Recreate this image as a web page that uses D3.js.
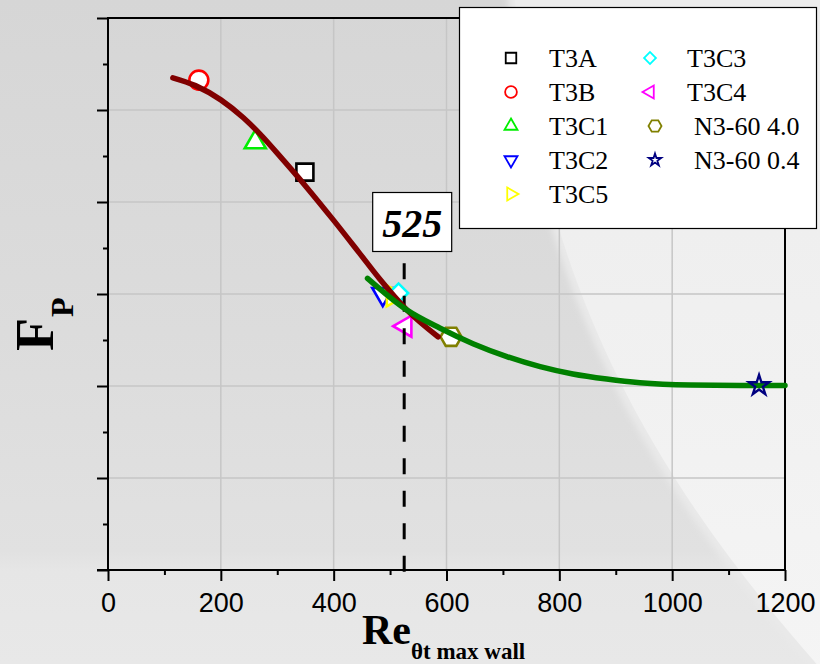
<!DOCTYPE html>
<html>
<head>
<meta charset="utf-8">
<script src="https://cdn.jsdelivr.net/npm/d3@7/dist/d3.min.js"></script>
<style>
  html, body { margin: 0; padding: 0; background: #dcdcdc; }
  svg { display: block; }
</style>
</head>
<body>
<svg id="chart" width="820" height="664"></svg>
<script>
// ---- data -------------------------------------------------------------
// Correlation curve (low-Re branch) Re_theta vs F_P
const redCurveRe = [115, 155, 200, 240, 270, 310, 350, 400, 445, 482, 530, 585];
const redCurveFp = [1.070, 1.053, 1.022, 0.983, 0.947, 0.892, 0.835, 0.760, 0.690, 0.632, 0.565, 0.507];

// Correlation curve (high-Re branch)
const greenCurveRe = [460, 530, 588, 647, 707, 766, 824, 884, 943, 1032, 1120, 1200];
const greenCurveFp = [0.634, 0.565, 0.526, 0.492, 0.464, 0.442, 0.426, 0.415, 0.407, 0.402, 0.401, 0.401];

// Test cases
const caseNames = ["T3A", "T3B", "T3C1", "T3C2", "T3C5", "T3C3", "T3C4", "N3-60 4.0", "N3-60 0.4"];
const caseRe    = [349, 161, 261, 487, 505, 515, 527, 608, 1154];
const caseFp    = [0.865, 1.065, 0.930, 0.600, 0.596, 0.602, 0.530, 0.507, 0.401];

// Legend order
const legendNames = ["T3A", "T3B", "T3C1", "T3C2", "T3C5", "T3C3", "T3C4", "N3-60 4.0", "N3-60 0.4"];

// Transition marker
const transitionRe = 525;

// Axis ticks
const xTicks = [0, 200, 400, 600, 800, 1000, 1200];
const xMinorTicks = [100, 300, 500, 700, 900, 1100];
const yTicks = [0, 0.2, 0.4, 0.6, 0.8, 1.0, 1.2];
const yMinorTicks = [0.1, 0.3, 0.5, 0.7, 0.9, 1.1];

// ---- styling per case ---------------------------------------------------
const caseStyle = {
  "T3A":       { color: "#000000", shape: "square" },
  "T3B":       { color: "#ff0000", shape: "circle" },
  "T3C1":      { color: "#00ee00", shape: "triUp" },
  "T3C2":      { color: "#0000ff", shape: "triDown" },
  "T3C5":      { color: "#ffff00", shape: "triRight" },
  "T3C3":      { color: "#00ffff", shape: "diamond" },
  "T3C4":      { color: "#ff00ff", shape: "triLeft" },
  "N3-60 4.0": { color: "#808000", shape: "hexagon" },
  "N3-60 0.4": { color: "#000080", shape: "star" }
};

const svg = d3.select("#chart");
const W = 820, H = 664;

// ---- background -------------------------------------------------------
const defs = svg.append("defs");
const bg = defs.append("linearGradient").attr("id", "bgGrad")
  .attr("x1", 0).attr("y1", 0).attr("x2", 0).attr("y2", 1);
bg.append("stop").attr("offset", "0").attr("stop-color", "#d6d6d6");
bg.append("stop").attr("offset", "0.5").attr("stop-color", "#dcdcdc");
bg.append("stop").attr("offset", "0.83").attr("stop-color", "#e1e1e1");
bg.append("stop").attr("offset", "0.86").attr("stop-color", "#e6e6e6");
bg.append("stop").attr("offset", "1").attr("stop-color", "#e8e8e8");

const lite = defs.append("linearGradient").attr("id", "liteGrad")
  .attr("x1", 0).attr("y1", 0).attr("x2", 0).attr("y2", 1);
lite.append("stop").attr("offset", "0").attr("stop-color", "#ececec");
lite.append("stop").attr("offset", "1").attr("stop-color", "#f5f5f5");

defs.append("filter").attr("id", "soft")
  .append("feGaussianBlur").attr("stdDeviation", 3);

svg.append("rect").attr("width", W).attr("height", H).attr("fill", "url(#bgGrad)");

const swoosh = "M515,0 C540,250 620,450 840,690 L840,0 Z";
svg.append("path").attr("d", swoosh).attr("fill", "none")
  .attr("stroke", "#e9e9e9").attr("stroke-width", 14).attr("filter", "url(#soft)");
svg.append("path").attr("d", swoosh).attr("fill", "url(#liteGrad)");

// ---- scales -------------------------------------------------------------
const x = d3.scaleLinear().domain([0, 1200]).range([108, 785]);
const y = d3.scaleLinear().domain([0, 1.2]).range([570, 18]);

// ---- grid -----------------------------------------------------------------
const grid = svg.append("g").attr("stroke", "#c6c6c6").attr("stroke-width", 1.5);
grid.selectAll("line.v").data(xTicks.slice(1, -1)).join("line")
  .attr("x1", d => x(d)).attr("x2", d => x(d))
  .attr("y1", y(0)).attr("y2", y(1.2));
grid.selectAll("line.h").data(yTicks.slice(1, -1)).join("line")
  .attr("x1", x(0)).attr("x2", x(1200))
  .attr("y1", d => y(d)).attr("y2", d => y(d));

// ---- axes -----------------------------------------------------------------
function styleAxis(g) {
  g.select(".domain").remove();
  g.selectAll(".tick line").attr("stroke", "#000").attr("stroke-width", 2);
}
const xAxis = svg.append("g").attr("transform", `translate(0,${y(0)})`)
  .call(d3.axisBottom(x).tickValues(xTicks).tickSize(11).tickSizeOuter(0)
    .tickPadding(12).tickFormat(d3.format("d")))
  .call(styleAxis);
xAxis.selectAll("text").attr("font-family", "'Liberation Sans', Arial, sans-serif")
  .attr("font-size", 27).attr("fill", "#000");
svg.append("g").attr("transform", `translate(0,${y(0)})`)
  .call(d3.axisBottom(x).tickValues(xMinorTicks).tickSize(5).tickSizeOuter(0).tickFormat(""))
  .call(styleAxis);

svg.append("g").attr("transform", `translate(${x(0)},0)`)
  .call(d3.axisLeft(y).tickValues(yTicks).tickSize(11).tickSizeOuter(0).tickFormat(""))
  .call(styleAxis);
svg.append("g").attr("transform", `translate(${x(0)},0)`)
  .call(d3.axisLeft(y).tickValues(yMinorTicks).tickSize(5).tickSizeOuter(0).tickFormat(""))
  .call(styleAxis);

// frame
svg.append("path")
  .attr("d", `M${x(0) - 11},${y(0)} H${x(1200)} V${y(1.2)} H${x(0)} V${y(0)}`)
  .attr("fill", "none").attr("stroke", "#000").attr("stroke-width", 2);

// ---- symbols --------------------------------------------------------------
function hexPath(r) {
  const p = d3.path();
  for (let i = 0; i < 6; i++) {
    const a = Math.PI / 3 * i;
    const px = r * Math.cos(a), py = r * Math.sin(a);
    if (i === 0) p.moveTo(px, py); else p.lineTo(px, py);
  }
  p.closePath();
  return p.toString();
}
function triArea(side) { return side * side * Math.sqrt(3) / 4; }
function symbolFor(shape, scale) {
  // returns [path, rotation]
  switch (shape) {
    case "square":   return [d3.symbol(d3.symbolSquare, Math.pow(17 * scale, 2))(), 0];
    case "circle":   return [d3.symbol(d3.symbolCircle, Math.PI * Math.pow(9.5 * scale, 2))(), 0];
    case "triUp":    return [d3.symbol(d3.symbolTriangle, triArea(21 * scale))(), 0];
    case "triDown":  return [d3.symbol(d3.symbolTriangle, triArea(21 * scale))(), 180];
    case "triRight": return [d3.symbol(d3.symbolTriangle, triArea(21 * scale))(), 90];
    case "triLeft":  return [d3.symbol(d3.symbolTriangle, triArea(21 * scale))(), -90];
    case "diamond":  return [d3.symbol(d3.symbolSquare, Math.pow(13.5 * scale, 2))(), 45];
    case "hexagon":  return [hexPath(10.5 * scale), 0];
    case "star":     return [d3.symbol(d3.symbolStar, 125 * scale * scale)(), 0];
  }
}

const cases = caseNames.map((n, i) => ({ name: n, re: caseRe[i], fp: caseFp[i] }));

function drawMarker(sel, d, scale, sw) {
  const st = caseStyle[d.name];
  const [p, rot] = symbolFor(st.shape, scale);
  sel.append("path").attr("d", p)
    .attr("transform", `translate(${x(d.re)},${y(d.fp)}) rotate(${rot})`)
    .attr("fill", st.shape === "star" ? "none" : "#fff")
    .attr("stroke", st.color).attr("stroke-width", sw)
    .attr("stroke-linejoin", "miter");
}

// markers beneath the curves
const markG = svg.append("g");
cases.filter(d => d.name !== "N3-60 0.4").forEach(d => drawMarker(markG, d, 1, 2.6));

// ---- transition line and label ---------------------------------------------
svg.append("line")
  .attr("x1", x(transitionRe)).attr("x2", x(transitionRe))
  .attr("y1", y(0.667)).attr("y2", y(0) + 7)
  .attr("stroke", "#000").attr("stroke-width", 3)
  .attr("stroke-dasharray", "16,16.5");

// ---- curves -----------------------------------------------------------------
const line = d3.line().x(d => x(d[0])).y(d => y(d[1])).curve(d3.curveMonotoneX);
svg.append("path").datum(redCurveRe.map((r, i) => [r, redCurveFp[i]]))
  .attr("d", line).attr("fill", "none").attr("stroke", "#800000")
  .attr("stroke-width", 5.5).attr("stroke-linecap", "round");
svg.append("path").datum(greenCurveRe.map((r, i) => [r, greenCurveFp[i]]))
  .attr("d", line).attr("fill", "none").attr("stroke", "#008000")
  .attr("stroke-width", 5.5).attr("stroke-linecap", "round");

cases.filter(d => d.name === "N3-60 0.4").forEach(d => drawMarker(svg, d, 1, 2.4));

// ---- value box --------------------------------------------------------------
const boxCx = x(transitionRe) + 8;
svg.append("rect").attr("x", boxCx - 39.5).attr("y", 192.5).attr("width", 79).attr("height", 59)
  .attr("fill", "#fff").attr("stroke", "#000").attr("stroke-width", 1.2);
svg.append("text").attr("x", boxCx).attr("y", 237)
  .attr("text-anchor", "middle")
  .attr("font-family", "'Liberation Serif', 'Times New Roman', serif")
  .attr("font-weight", "bold").attr("font-style", "italic").attr("font-size", 40)
  .text(transitionRe);

// ---- legend -------------------------------------------------------------------
const leg = svg.append("g");
leg.append("rect").attr("x", 459.5).attr("y", 7.5).attr("width", 357).attr("height", 221)
  .attr("fill", "#fff").attr("stroke", "#000").attr("stroke-width", 1.2);
legendNames.forEach((name, i) => {
  const col = i < 5 ? 0 : 1;
  const row = col === 0 ? i : i - 5;
  const cy = 58 + row * 34;
  const isN = name.startsWith("N3");
  const sx = col === 0 ? 511 : (isN ? 655 : 650);
  const tx = col === 0 ? 549 : (isN ? 694 : 687);
  const st = caseStyle[name];
  const [p, rot] = symbolFor(st.shape, 0.62);
  leg.append("path").attr("d", p)
    .attr("transform", `translate(${sx},${cy}) rotate(${rot})`)
    .attr("fill", "#fff").attr("stroke", st.color).attr("stroke-width", 1.8);
  leg.append("text").attr("x", tx).attr("y", cy + 9)
    .attr("font-family", "'Liberation Serif', 'Times New Roman', serif")
    .attr("font-size", 26).attr("fill", "#000")
    .text(name);
});

// ---- axis titles ------------------------------------------------------------------
const xt = svg.append("text").attr("x", 362).attr("y", 644)
  .attr("font-family", "'Liberation Serif', 'Times New Roman', serif")
  .attr("font-weight", "bold").attr("font-size", 42);
xt.append("tspan").text("Re");
xt.append("tspan").attr("font-size", 23).attr("dy", 15).text("θt max wall");

const yt = svg.append("text").attr("transform", "translate(53,351) rotate(-90)")
  .attr("font-family", "'Liberation Serif', 'Times New Roman', serif")
  .attr("font-weight", "bold").attr("font-size", 54);
yt.append("tspan").text("F");
yt.append("tspan").attr("font-size", 32).attr("dy", 20).attr("dx", 1).text("P");
</script>
</body>
</html>
